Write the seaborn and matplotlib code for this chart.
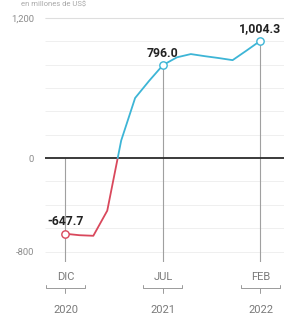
import numpy as np
import pandas as pd
import seaborn as sns
import matplotlib.pyplot as plt
import matplotlib.transforms as mtransforms

# ---- data ----
months = ["2020-12", "2021-01", "2021-02", "2021-03", "2021-04", "2021-05", "2021-06",
          "2021-07", "2021-08", "2021-09", "2021-10", "2021-11", "2021-12", "2022-01", "2022-02"]
values = [-647.7, -660, -665, -450, 150, 514, 660, 796.0, 862, 890, 872, 856, 838, 920, 1004.3]
highlight = [0, 7, 14]
value_labels = ["-647.7", "796.0", "1,004.3"]
month_labels = ["DIC", "JUL", "FEB"]
year_labels = ["2020", "2021", "2022"]
yticks = [1200, 0, -800]
ytick_labels = ["1,200", "0", "-800"]
grid_values = [-800, -600, -400, -200, 200, 400, 600, 800, 1000, 1200]

RED = "#d9485c"
BLUE = "#3db5d6"

sns.set_theme(style="white")
plt.rcParams['font.family'] = ['Roboto', 'DejaVu Sans']

fig = plt.figure(figsize=(2.84, 3.2), dpi=100)
ax = fig.add_axes([45 / 284, 0.181, 1 - 45 / 284, 0.9625 - 0.181])

x = np.arange(len(values))
v = np.array(values, dtype=float)
df = pd.DataFrame({"x": x, "v": v, "month": months})

# split at zero crossing
i = int(np.where((v[:-1] < 0) & (v[1:] >= 0))[0][0])
xc = x[i] + (-v[i]) / (v[i + 1] - v[i])
neg = pd.concat([df[df.x <= i][["x", "v"]], pd.DataFrame({"x": [xc], "v": [0.0]})])
pos = pd.concat([pd.DataFrame({"x": [xc], "v": [0.0]}), df[df.x > i][["x", "v"]]])

ylo, yhi = -890, 1250
ax.set_xlim(-1.47, 15.69)
ax.set_ylim(ylo, yhi)

# grid
ax.hlines(grid_values, -1.47, 15.69, colors="#efefef", lw=0.7, zorder=0)
ax.hlines([1200], -1.47, 15.69, colors="#dedede", lw=0.8, zorder=0)
ax.axhline(0, color="#2b2b2b", lw=1.3, zorder=2)

# vertical guide lines at highlighted months
for h in highlight:
    ax.vlines(x[h], ylo, max(v[h], 0), colors="#a0a0a0", lw=0.8, zorder=1)

sns.lineplot(data=neg, x="x", y="v", color=RED, lw=1.3, ax=ax, sort=False, zorder=3)
sns.lineplot(data=pos, x="x", y="v", color=BLUE, lw=1.3, ax=ax, sort=False, zorder=3)

hdf = df.iloc[highlight]
for _, r in hdf.iterrows():
    ax.scatter(r.x, r.v, s=28, facecolor="white", edgecolor=RED if r.v < 0 else BLUE,
               linewidth=1.0, zorder=5)

for h, lab in zip(highlight, value_labels):
    ax.annotate(lab, (x[h], v[h]), xytext=(0, 8.5), textcoords="offset points",
                ha="center", va="center", fontsize=8.8, fontweight="bold", color="#222222",
                zorder=6)

ax.set_yticks(yticks, ytick_labels)
ax.tick_params(axis="y", length=0, pad=8, labelsize=6.8, labelcolor="#8c8c8c")
ax.set_xticks([])
ax.set_xlabel("")
ax.set_ylabel("")
for s in ax.spines.values():
    s.set_visible(False)

trans = mtransforms.blended_transform_factory(ax.transData, ax.transAxes)
for h, m, yr in zip(highlight, month_labels, year_labels):
    xx = x[h]
    ax.text(xx, -0.058, m, transform=trans, ha="center", va="center",
            fontsize=8, color="#7a7a7a", clip_on=False)
    yb = -0.104
    ax.plot([xx - 1.4, xx - 1.4, xx + 1.4, xx + 1.4], [yb + 0.012, yb, yb, yb + 0.012],
            transform=trans, color="#9a9a9a", lw=0.7, clip_on=False)
    ax.plot([xx, xx], [yb, yb - 0.018], transform=trans, color="#9a9a9a", lw=0.7, clip_on=False)
    ax.text(xx, -0.19, yr, transform=trans, ha="center", va="center",
            fontsize=8, color="#7a7a7a", clip_on=False)

fig.text(0.075, 0.998, "en millones de US$", ha="left", va="top", fontsize=5.5, color="#a8a8a8")

fig.savefig("out.png", dpi=100)
